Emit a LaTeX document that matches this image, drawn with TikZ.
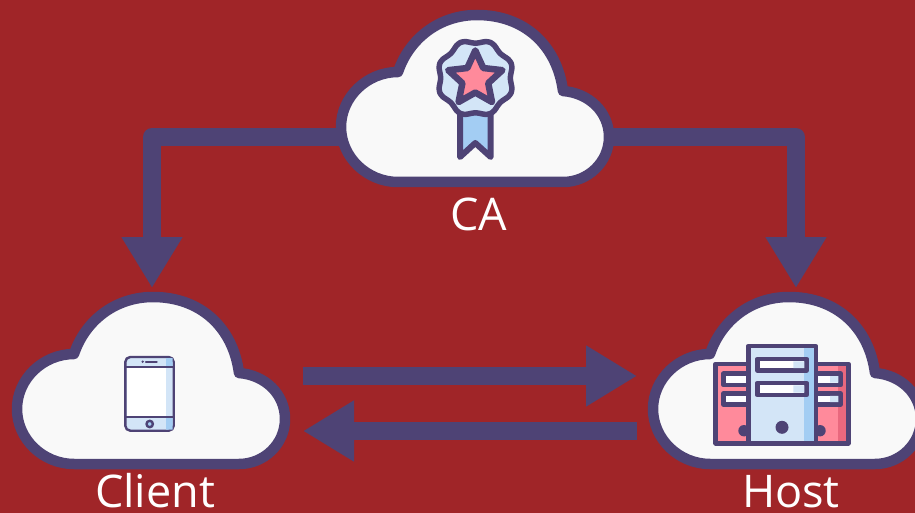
\documentclass[tikz,border=0pt]{standalone}
\usepackage{fontspec}
\setmainfont{Open Sans}
\usetikzlibrary{arrows.meta,shapes.geometric}
\definecolor{bgred}{RGB}{160,37,40}
\definecolor{ink}{RGB}{78,67,117}
\definecolor{cloudwhite}{RGB}{249,249,249}
\definecolor{paleblue}{RGB}{211,229,247}
\definecolor{midblue}{RGB}{163,205,243}
\definecolor{pink}{RGB}{255,138,155}
\definecolor{darkpink}{RGB}{233,104,126}
\tikzstyle{link}=[draw=ink,line width=18pt,line join=round,-{Triangle[length=51pt,width=57.5pt]}]
\tikzstyle{label}=[text=white,font=\fontsize{45}{45}\selectfont,inner sep=0pt,anchor=base]
\tikzstyle{outline}=[draw=ink,line join=round,line cap=round]
\tikzstyle{slot}=[outline,line width=4.5pt,fill=white]
\tikzset{cloud/.pic={
    \draw[draw=ink,fill=cloudwhite,line width=10.5pt,line join=round]
      (57,167) -- (222,167) .. controls (247,167) and (268,147) .. (268,122)
      .. controls (268,97) and (248,78) .. (222,76)
      .. controls (216,30) and (183,0) .. (136,0)
      .. controls (98,0) and (68,24) .. (57,57)
      .. controls (26,57) and (0,82) .. (0,112)
      .. controls (0,142) and (26,167) .. (57,167) -- cycle;
    \coordinate (-west) at (0,122);
    \coordinate (-east) at (268,122);
    \coordinate (-north) at (135,0);
}}
\begin{document}
\begin{tikzpicture}[x=1pt,y=-1pt]
    \path[use as bounding box,clip] (0,0) rectangle (915,513);
    \fill[bgred] (0,0) rectangle (915,513);

    \pic (ca) at (341,15) {cloud};
    \pic (client) at (17,297) {cloud};
    \pic (host) at (653,297) {cloud};

    \coordinate (send_a) at (303,376);
    \coordinate (send_b) at (637,376);
    \coordinate (back_a) at (637,431);
    \coordinate (back_b) at (303,431);

    \path[link,shorten >=9pt] (ca-west) -| (client-north);
    \path[link,shorten >=9pt] (ca-east) -| ([xshift=8pt]host-north);
    \path[link] (send_a) -- (send_b);
    \path[link] (back_a) -- (back_b);

    % medal
    \draw[outline,fill=midblue,line width=6pt]
      (460,110) -- (460,157) -- (475.3,143) -- (490.7,157) -- (490.7,110) -- cycle;
    \draw[outline,fill=paleblue,line width=5.5pt,smooth cycle]
      plot[domain=0:352.5,samples=48] ({475.5+(36.7-1.9*cos(8*\x))*cos(\x)},{78+(36.7-1.9*cos(8*\x))*sin(\x)});
    \node (badge) [star,star points=5,star point ratio=2.1,minimum size=57pt,inner sep=0pt,
      outline,fill=pink,line width=6.5pt] at (475.3,79) {};

    % phone
    \draw[outline,fill=paleblue,line width=2.4pt,rounded corners=5pt] (125.3,357) rectangle (173.7,430.7);
    \fill[white] (126.5,366.7) rectangle (166,416.7);
    \fill[midblue] (166,417) rectangle (172.5,429.5) (166,358.2) rectangle (172.5,366);
    \draw[outline,line width=2.4pt] (125.3,366.7) -- (173.7,366.7) (125.3,416.7) -- (173.7,416.7);
    \draw[outline,fill=midblue,line width=2.4pt] (149.7,424) circle (3.2);
    \draw[outline,line width=2.2pt] (146,361.7) -- (156.7,361.7);
    \fill[ink] (142.7,361.7) circle (1.3);

    % side towers of the server
    \draw[outline,fill=pink,line width=4.5pt] (715.7,364) rectangle (848.3,443.3);
    \fill[darkpink] (838,366.2) rectangle (846,441);
    \draw[slot] (723.5,373.7) rectangle (755,385);
    \draw[slot] (723.5,393.5) rectangle (755,404.5);
    \draw[slot] (810,373.7) rectangle (840.7,385);
    \draw[slot] (810,393.5) rectangle (840.7,404.5);
    \fill[paleblue] (830,376) rectangle (838.4,382.7) (830,395.8) rectangle (838.4,402.2);
    \fill[ink] (744,430.7) circle (5.7) (820,430.7) circle (5.7);

    % main tower of the server
    \draw[outline,fill=paleblue,line width=4.5pt] (748.3,346) rectangle (815.7,443.3);
    \fill[midblue] (804,348.2) rectangle (813.5,441);
    \draw[slot] (757.3,359) rectangle (806.7,370.5);
    \draw[slot] (757.3,383) rectangle (806.7,395);
    \fill[paleblue] (793.3,361.3) rectangle (804.4,368.2) (793.3,385.3) rectangle (804.4,392.7);
    \fill[ink] (782,427.3) circle (6.5);

    \node (ca_label) [label] at (479,230) {CA};
    \node (client_label) [label] at (155,507) {Client};
    \node (host_label) [label] at (791,507) {Host};
\end{tikzpicture}
\end{document}
